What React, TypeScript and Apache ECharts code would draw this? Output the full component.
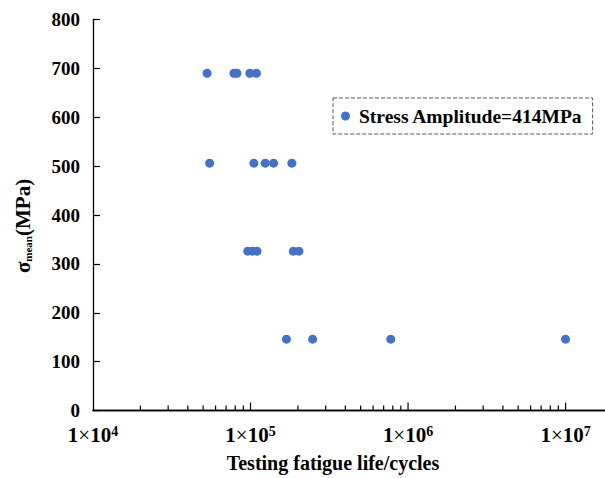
import React, { useEffect, useRef } from 'react';
import * as echarts from 'echarts';

const seriesName = 'Stress Amplitude=414MPa';
const xAxisTitle = 'Testing fatigue life/cycles';
const meanStressLevels = [690, 506, 326, 146];
const lifeAt690 = [5.3e4, 7.85e4, 8.2e4, 9.9e4, 1.09e5];
const lifeAt506 = [5.5e4, 1.05e5, 1.24e5, 1.4e5, 1.83e5];
const lifeAt326 = [9.6e4, 1.03e5, 1.1e5, 1.87e5, 2.03e5];
const lifeAt146 = [1.69e5, 2.48e5, 7.77e5, 1.0e7];
const lifeGroups = [lifeAt690, lifeAt506, lifeAt326, lifeAt146];
const yTicks = [0, 100, 200, 300, 400, 500, 600, 700, 800];
const xMajorExponents = [4, 5, 6, 7];
const xMinorMultipliers = [2, 3, 4, 5, 6, 7, 8, 9];

const FONT = '"Liberation Serif", "Times New Roman", serif';

export default function App() {
  const ref = useRef<HTMLDivElement>(null);
  useEffect(() => {
    if (!ref.current) return;
    const chart = echarts.init(ref.current, null, { renderer: 'svg' });
    const points: number[][] = [];
    lifeGroups.forEach((g, i) => g.forEach((n) => points.push([n, meanStressLevels[i]])));
    const majorTicks = xMajorExponents.map((e) => [Math.pow(10, e), 0, 1]);
    const minorTicks: number[][] = [];
    xMajorExponents.forEach((e) => {
      xMinorMultipliers.forEach((m) => {
        const v = m * Math.pow(10, e);
        if (v < 1.78e7) minorTicks.push([v, 0, 0]);
      });
    });
    const tickData = majorTicks.slice(1).concat(minorTicks);

    chart.setOption({
      animation: false,
      backgroundColor: '#fff',
      grid: { left: 93, top: 19.5, right: 0, bottom: 65.5, containLabel: false },
      legend: {
        left: 333,
        top: 98,
        orient: 'horizontal',
        padding: [8, 10, 8, 8],
        borderColor: '#555',
        borderWidth: 1,
        borderType: 'dashed',
        itemWidth: 9,
        itemHeight: 9,
        data: [{ name: seriesName, icon: 'circle' }],
        textStyle: {
          fontFamily: FONT,
          fontWeight: 'bold',
          fontSize: 19.5,
          color: '#000',
          padding: [0, 0, 0, 4],
        },
      },
      xAxis: [
        {
          type: 'log',
          logBase: 10,
          min: 1e4,
          max: 1.78e7,
          interval: 1,
          splitLine: { show: false },
          axisLine: { show: true, onZero: false, lineStyle: { color: '#000', width: 1.3 } },
          axisTick: { show: false },
          axisLabel: {
            margin: 13.5,
            showMaxLabel: false,
            formatter: (v: number) => {
              const l = Math.log10(v);
              const e = Math.round(l);
              if (Math.abs(l - e) > 1e-6 || xMajorExponents.indexOf(e) < 0) return '';
              return '{b|1}{x|×}{b|10}{s|' + e + '}';
            },
            rich: {
              b: { fontFamily: FONT, fontWeight: 'bold', fontSize: 21, color: '#000' },
              x: { fontFamily: FONT, fontWeight: 'normal', fontSize: 21, color: '#000' },
              s: {
                fontFamily: FONT,
                fontWeight: 'bold',
                fontSize: 14,
                color: '#000',
                verticalAlign: 'top',
              },
            },
          },
          name: xAxisTitle,
          nameLocation: 'middle',
          nameGap: 42.5,
          nameTextStyle: {
            fontFamily: FONT,
            fontWeight: 'bold',
            fontSize: 20,
            color: '#000',
            padding: [0, 32, 0, 0],
          },
        },
        {
          type: 'value',
          position: 'top',
          min: 0,
          max: 1,
          axisLine: { show: true, lineStyle: { color: '#000', width: 1.3 } },
          axisTick: { show: false },
          axisLabel: { show: false },
          splitLine: { show: false },
        },
      ],
      yAxis: {
        type: 'value',
        min: 0,
        max: 800,
        interval: 100,
        splitLine: { show: false },
        axisLine: { show: true, onZero: false, lineStyle: { color: '#000', width: 1.3 } },
        axisTick: { show: true, inside: true, length: 7, lineStyle: { color: '#000', width: 1.2 } },
        axisLabel: {
          margin: 13,
          fontFamily: FONT,
          fontWeight: 'bold',
          fontSize: 19,
          color: '#000',
          formatter: (v: number) => (yTicks.indexOf(v) >= 0 ? String(v) : ''),
        },
        name: '{s|σ}{sub|mean}{p|(MPa)}',
        nameLocation: 'middle',
        nameRotate: 90,
        nameGap: 60,
        nameTextStyle: {
          padding: [0, 0, 0, -22],
          rich: {
            s: { fontFamily: FONT, fontWeight: 'bold', fontSize: 21, color: '#000' },
            sub: {
              fontFamily: FONT,
              fontWeight: 'bold',
              fontSize: 11,
              color: '#000',
              verticalAlign: 'bottom',
            },
            p: { fontFamily: FONT, fontWeight: 'bold', fontSize: 21, color: '#000' },
          },
        },
      },
      series: [
        {
          name: seriesName,
          type: 'scatter',
          xAxisIndex: 0,
          symbol: 'circle',
          symbolSize: 9,
          itemStyle: { color: '#4472C4', opacity: 1 },
          data: points,
          z: 5,
        },
        {
          type: 'custom',
          xAxisIndex: 0,
          silent: true,
          data: tickData,
          renderItem: (params: any, api: any) => {
            const p = api.coord([api.value(0), 0]);
            const len = api.value(2) === 1 ? 8 : 5;
            return {
              type: 'line',
              shape: { x1: p[0], y1: p[1], x2: p[0], y2: p[1] - len },
              style: { stroke: '#000', lineWidth: 1.2 },
            };
          },
          z: 3,
        },
      ],
    });
    return () => chart.dispose();
  }, []);
  return (
    <div
      ref={ref}
      style={{ position: 'fixed', left: 0, top: 0, width: 605, height: 478 }}
    />
  );
}
